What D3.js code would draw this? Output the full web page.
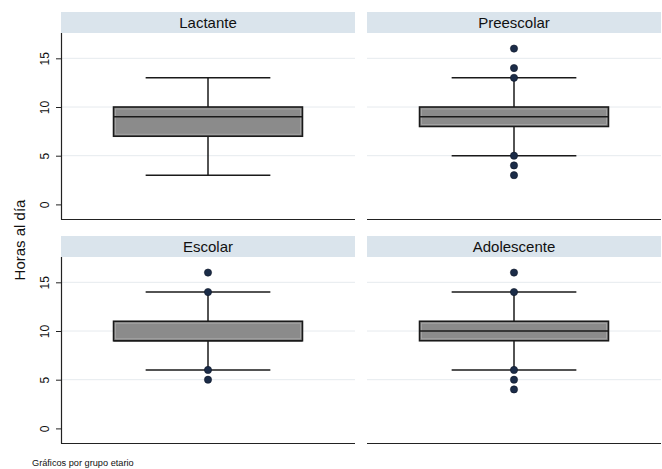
<!DOCTYPE html>
<html>
<head>
<meta charset="utf-8">
<script src="https://cdn.jsdelivr.net/npm/d3@7"></script>
<style>
  body { margin: 0; background: #fff; }
  svg { font-family: "Liberation Sans", Arial, sans-serif; }
</style>
</head>
<body>
<svg width="662" height="469"></svg>
<script>
// values (hours per day)
var groups = ["Lactante", "Preescolar", "Escolar", "Adolescente"];
var q1 = [7, 8, 9, 9];
var medians = [9, 9, 9, 10];
var q3 = [10, 10, 11, 11];
var whiskLow = [3, 5, 6, 6];
var whiskHigh = [13, 13, 14, 14];
var outliers = [[], [16, 14, 13, 5, 4, 3], [16, 14, 6, 5], [16, 14, 6, 5, 4]];
var yTicks = [0, 5, 10, 15];

var svg = d3.select("svg");

var cols = [61, 367], panelW = 294;
var rows = [33, 257], panelH = 186, headH = 21;

var y = d3.scaleLinear().domain([-1.5, 17.6]).range([panelH, 0]);
var x = d3.scaleBand().domain(["box"]).range([0, panelW]).paddingOuter(0.278);

groups.forEach(function(name, i) {
  var col = i % 2, row = Math.floor(i / 2);
  var g = svg.append("g")
      .attr("transform", "translate(" + cols[col] + "," + rows[row] + ")");

  // strip header
  g.append("rect")
      .attr("x", 0).attr("y", -headH)
      .attr("width", panelW).attr("height", headH)
      .attr("fill", "#dae4ec");
  g.append("text")
      .attr("x", panelW / 2).attr("y", -headH / 2 + 5.5)
      .attr("text-anchor", "middle")
      .attr("font-size", 15)
      .attr("fill", "#111")
      .text(name);

  // gridlines
  g.selectAll(".grid")
      .data(yTicks.filter(function(t) { return t > 0; }))
      .enter().append("line")
      .attr("x1", 0).attr("x2", panelW)
      .attr("y1", function(d) { return y(d); })
      .attr("y2", function(d) { return y(d); })
      .attr("stroke", "#e6eaee").attr("stroke-width", 1);

  // bottom axis line
  g.append("line")
      .attr("x1", 0).attr("x2", panelW)
      .attr("y1", panelH + 0.5).attr("y2", panelH + 0.5)
      .attr("stroke", "#222").attr("stroke-width", 1.2);

  if (col === 0) {
    var ax = g.append("g").call(d3.axisLeft(y).tickValues(yTicks).tickSize(5).tickPadding(5));
    ax.select(".domain").attr("stroke", "#222").attr("stroke-width", 1.2)
        .attr("d", "M0.5,0V" + (panelH + 0.5));
    ax.selectAll(".tick line").attr("stroke", "#222");
    ax.selectAll(".tick text")
        .attr("font-size", 12)
        .attr("fill", "#111")
        .attr("transform", "rotate(-90)")
        .attr("x", 0).attr("y", -12)
        .attr("dy", 0)
        .attr("text-anchor", "middle");
  }

  var bx = x("box"), bw = x.bandwidth(), cx = bx + bw / 2;
  var capW = bw * 0.66;
  var line = "#1a1a1a";

  // whiskers
  g.append("line")
      .attr("x1", cx).attr("x2", cx)
      .attr("y1", y(whiskLow[i])).attr("y2", y(q1[i]))
      .attr("stroke", line).attr("stroke-width", 1.5);
  g.append("line")
      .attr("x1", cx).attr("x2", cx)
      .attr("y1", y(whiskHigh[i])).attr("y2", y(q3[i]))
      .attr("stroke", line).attr("stroke-width", 1.5);
  [whiskLow[i], whiskHigh[i]].forEach(function(v) {
    g.append("line")
        .attr("x1", cx - capW / 2).attr("x2", cx + capW / 2)
        .attr("y1", y(v)).attr("y2", y(v))
        .attr("stroke", line).attr("stroke-width", 1.6);
  });

  // box
  g.append("rect")
      .attr("x", bx).attr("y", y(q3[i]))
      .attr("width", bw).attr("height", y(q1[i]) - y(q3[i]))
      .attr("fill", "#8b8b8b")
      .attr("stroke", line).attr("stroke-width", 1.6);
  g.append("rect")
      .attr("x", bx + 2).attr("y", y(q3[i]) + 2)
      .attr("width", bw - 4).attr("height", y(q1[i]) - y(q3[i]) - 4)
      .attr("fill", "none")
      .attr("stroke", "#a9a9a9").attr("stroke-width", 0.8);
  g.append("line")
      .attr("x1", bx).attr("x2", bx + bw)
      .attr("y1", y(medians[i])).attr("y2", y(medians[i]))
      .attr("stroke", line).attr("stroke-width", 1.6);

  // outside values
  g.selectAll(".out")
      .data(outliers[i])
      .enter().append("circle")
      .attr("cx", cx)
      .attr("cy", function(d) { return y(d); })
      .attr("r", 3.6)
      .attr("fill", "#1b2c48")
      .attr("stroke", "#0d1626").attr("stroke-width", 0.6);
});

// y axis title
svg.append("text")
    .attr("transform", "translate(25,240) rotate(-90)")
    .attr("text-anchor", "middle")
    .attr("font-size", 15)
    .attr("fill", "#111")
    .text("Horas al día");

// note
svg.append("text")
    .attr("x", 32).attr("y", 466)
    .attr("font-size", 9.2)
    .attr("fill", "#111")
    .text("Gráficos por grupo etario");
</script>
</body>
</html>
